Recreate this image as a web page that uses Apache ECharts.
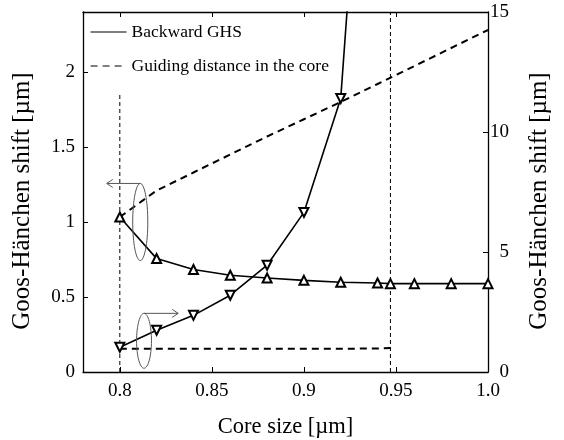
<!DOCTYPE html>
<html><head><meta charset="utf-8">
<script src="https://cdn.jsdelivr.net/npm/echarts@6/dist/echarts.min.js"></script>
<style>html,body{margin:0;padding:0;background:#fff}#c{width:564px;height:440px}</style>
</head><body><div id="c"></div>
<script>
// ---- data ----
const xTicks = [0.8, 0.85, 0.9, 0.95, 1.0];
const leftTicks = [0, 0.5, 1, 1.5, 2];
const rightTicks = [0, 5, 10, 15];
const ghsLeftX = [0.8, 0.82, 0.84, 0.86, 0.88, 0.9, 0.92, 0.94, 0.947, 0.96, 0.98, 1.0];
const ghsLeftY = [1.033, 0.756, 0.683, 0.645, 0.627, 0.611, 0.598, 0.593, 0.589, 0.589, 0.589, 0.589];
const ghsRightX = [0.8, 0.82, 0.84, 0.86, 0.88, 0.9, 0.92, 0.93];
const ghsRightY = [1.03, 1.74, 2.36, 3.2, 4.45, 6.65, 11.4, 22];
const guideLeftX = [0.8, 0.82, 0.84, 0.86, 0.88, 0.9, 0.92, 0.94, 0.96, 0.98, 1.0];
const guideLeftY = [1.033, 1.21, 1.33, 1.45, 1.57, 1.685, 1.80, 1.92, 2.04, 2.16, 2.28];
const guideRightX = [0.8, 0.82, 0.84, 0.86, 0.88, 0.9, 0.92, 0.94, 0.947];
const guideRightY = [0.97, 0.97, 0.97, 0.97, 0.97, 0.97, 0.97, 0.98, 1.0];
const cutoffX = [0.8, 0.947];
const cutoffTop = [1.85, 2.4];
// annotation anchors (data space, left axis)
const annLeft = {x0: 0.8070, x1: 0.8152, y0: 0.743, y1: 1.257, arrowTo: 0.7929};
const annRight = {x0: 0.8091, x1: 0.8172, y0: 0.025, y1: 0.391, arrowTo: 0.8317};

const FONT = 'Liberation Serif';
const zip = (xs, ys) => xs.map((x, i) => [x, ys[i]]);
const axisLine = {show: true, onZero: false, lineStyle: {color: '#000', width: 1.3}};

const option = {
  animation: false,
  backgroundColor: '#fff',
  grid: {left: 83, right: 76, top: 12, bottom: 68, containLabel: false, outerBoundsMode: 'none'},
  legend: {
    data: ['Backward GHS', 'Guiding distance in the core'],
    orient: 'vertical', left: 90, top: 23, padding: 0,
    itemWidth: 36, itemHeight: 17, itemGap: 16,
    itemStyle: {opacity: 0},
    lineStyle: {width: 1.2},
    textStyle: {fontFamily: FONT, fontSize: 17.5, color: '#000'},
    selectedMode: false
  },
  xAxis: [{
    type: 'value', min: 0.78, max: 1.0, position: 'bottom',
    axisLine,
    axisTick: {show: true, inside: true, length: 5, customValues: xTicks, lineStyle: {color: '#000', width: 1}},
    axisLabel: {customValues: xTicks, margin: 10, fontFamily: FONT, fontSize: 19, color: '#000',
      formatter: v => (Math.abs(v - 1) < 1e-9 ? '1.0' : String(+v.toFixed(2)))},
    splitLine: {show: false},
    name: 'Core size [µm]', nameLocation: 'middle', nameGap: 44,
    nameTextStyle: {fontFamily: FONT, fontSize: 22.5, color: '#000'}
  }, {
    type: 'value', min: 0.78, max: 1.0, position: 'top',
    axisLine,
    axisTick: {show: true, inside: true, length: 5, customValues: xTicks, lineStyle: {color: '#000', width: 1}},
    axisLabel: {show: false},
    splitLine: {show: false}
  }],
  yAxis: [{
    type: 'value', min: 0, max: 2.4, position: 'left',
    axisLine,
    axisTick: {show: true, inside: true, length: 5, customValues: leftTicks, lineStyle: {color: '#000', width: 1}},
    axisLabel: {customValues: leftTicks, margin: 8, fontFamily: FONT, fontSize: 19, color: '#000'},
    splitLine: {show: false},
    name: 'Goos-Hänchen shift [µm]', nameLocation: 'middle', nameGap: 48, nameRotate: 90,
    nameTextStyle: {fontFamily: FONT, fontSize: 25, color: '#000', padding: [0, 18, 0, 0]}
  }, {
    type: 'value', min: 0, max: 15, position: 'right',
    axisLine,
    axisTick: {show: true, inside: true, length: 5, customValues: rightTicks, lineStyle: {color: '#000', width: 1}},
    axisLabel: {customValues: rightTicks, margin: 21, align: 'right', fontFamily: FONT, fontSize: 19, color: '#000'},
    splitLine: {show: false},
    name: 'Goos-Hänchen shift [µm]', nameLocation: 'middle', nameGap: 39, nameRotate: 90,
    nameTextStyle: {fontFamily: FONT, fontSize: 25, color: '#000', padding: [0, 18, 0, 0]}
  }],
  series: [
    {
      name: 'Backward GHS', type: 'line', xAxisIndex: 0, yAxisIndex: 0,
      data: zip(ghsLeftX, ghsLeftY), smooth: false,
      symbol: 'triangle', symbolSize: 9, clip: true,
      lineStyle: {color: '#000', width: 1.6},
      itemStyle: {color: '#fff', borderColor: '#000', borderWidth: 2}, z: 5
    },
    {
      name: 'Guiding distance in the core', type: 'line', xAxisIndex: 0, yAxisIndex: 0,
      data: zip(guideLeftX, guideLeftY), symbol: 'none', clip: true,
      lineStyle: {color: '#000', width: 2, type: [7, 5]}, z: 3
    },
    {
      name: 'Backward GHS', type: 'line', xAxisIndex: 0, yAxisIndex: 1,
      data: zip(ghsRightX, ghsRightY), smooth: false,
      symbol: 'triangle', symbolRotate: 180, symbolSize: 9, clip: true,
      lineStyle: {color: '#000', width: 1.6},
      itemStyle: {color: '#fff', borderColor: '#000', borderWidth: 2}, z: 5
    },
    {
      name: 'Guiding distance in the core', type: 'line', xAxisIndex: 0, yAxisIndex: 1,
      data: zip(guideRightX, guideRightY), symbol: 'none', clip: true,
      lineStyle: {color: '#000', width: 2, type: [7, 5]}, z: 3
    },
    {
      name: 'cutoff1', type: 'line', xAxisIndex: 0, yAxisIndex: 0, silent: true,
      data: [[cutoffX[0], 0], [cutoffX[0], cutoffTop[0]]], symbol: 'none',
      lineStyle: {color: '#000', width: 1, type: [4, 3]}, z: 2
    },
    {
      name: 'cutoff2', type: 'line', xAxisIndex: 0, yAxisIndex: 0, silent: true,
      data: [[cutoffX[1], 0], [cutoffX[1], cutoffTop[1]]], symbol: 'none',
      lineStyle: {color: '#000', width: 1, type: [4, 3]}, z: 2
    }
  ]
};

const chart = echarts.init(document.getElementById('c'), null, {renderer: 'canvas'});
chart.setOption(option);

function px(x, y) { return chart.convertToPixel({xAxisIndex: 0, yAxisIndex: 0}, [x, y]); }
function annotation(a, dir) {
  const p0 = px(a.x0, a.y0), p1 = px(a.x1, a.y1);
  const cx = (p0[0] + p1[0]) / 2, cy = (p0[1] + p1[1]) / 2;
  const rx = Math.abs(p1[0] - p0[0]) / 2, ry = Math.abs(p1[1] - p0[1]) / 2;
  const ay = p1[1];
  const tip = px(a.arrowTo, a.y1)[0];
  const els = [];
  els.push({type: 'ellipse', shape: {cx, cy, rx, ry}, style: {fill: 'none', stroke: '#555', lineWidth: 1}, z: 10});
  els.push({type: 'line', shape: {x1: cx, y1: ay, x2: tip, y2: ay}, style: {stroke: '#555', lineWidth: 1}, z: 10});
  const h = 6 * dir;
  els.push({type: 'polyline', shape: {points: [[tip - h, ay - 4], [tip, ay], [tip - h, ay + 4]]}, style: {fill: 'none', stroke: '#555', lineWidth: 1}, z: 10});
  return els;
}
chart.setOption({graphic: [...annotation(annLeft, -1), ...annotation(annRight, 1)]});
</script>
</body></html>
